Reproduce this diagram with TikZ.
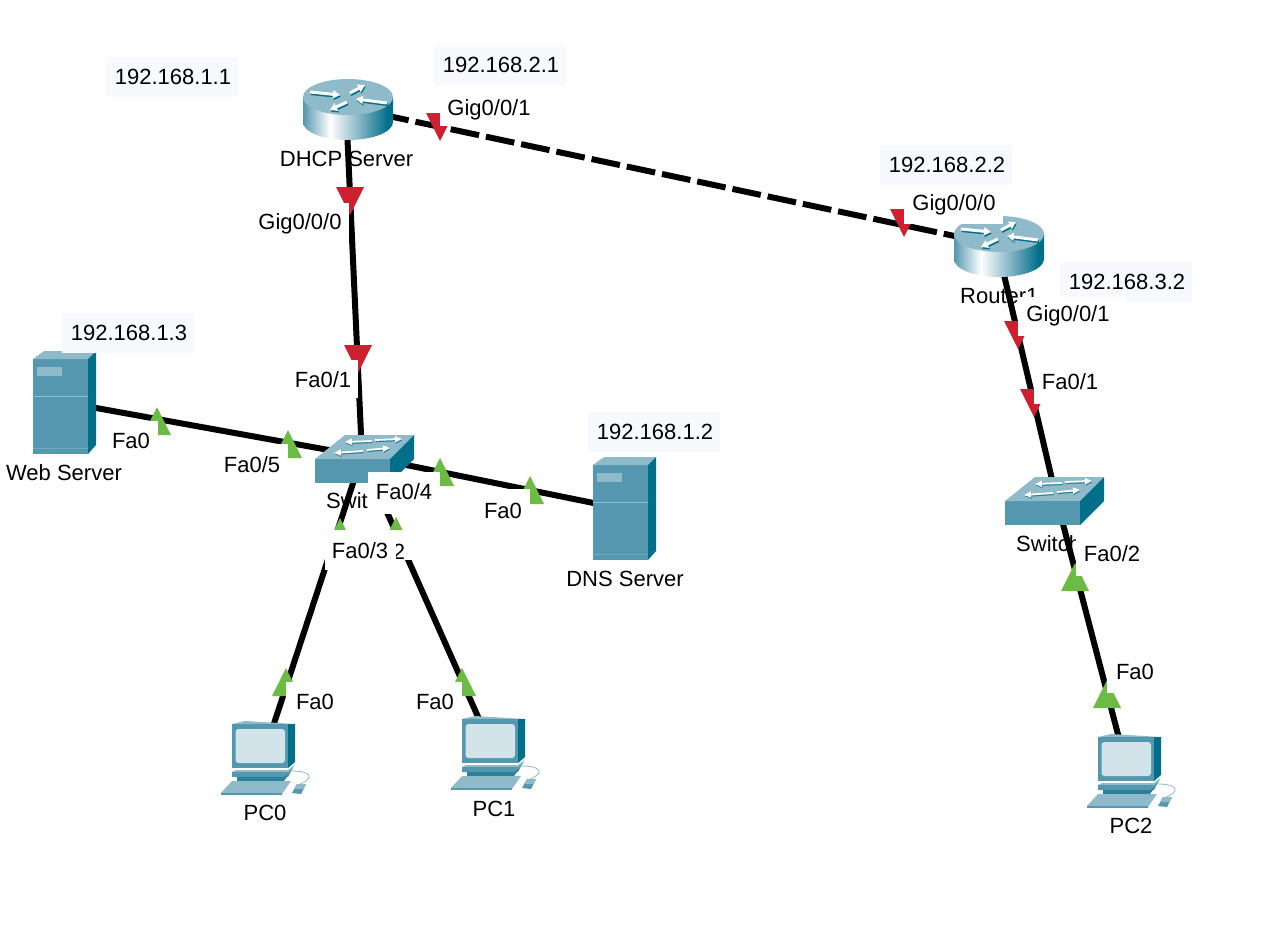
\documentclass[tikz,border=0pt]{standalone}
\usepackage{fontspec}
\setmainfont{Liberation Sans}
\usetikzlibrary{arrows.meta}
\definecolor{teal face}{HTML}{5497AF}
\definecolor{teal top}{HTML}{8FBAC9}
\definecolor{teal dark}{HTML}{006F8A}
\definecolor{teal mid}{HTML}{2A8199}
\definecolor{screen}{HTML}{D3E3EA}
\definecolor{paleaddr}{HTML}{F8F8FF}
\definecolor{portred}{HTML}{CD2030}
\definecolor{portgreen}{HTML}{6CBB45}
\pgfdeclarehorizontalshading{routerbody}{100bp}{
  color(0bp)=(teal face);
  color(25bp)=(teal face);
  color(40bp)=(white);
  color(55bp)=(teal top);
  color(72bp)=(teal dark);
  color(100bp)=(teal dark)}
\newcommand{\uptri}[2]{\fill[portgreen] (#1,#2) -- ++(14,28) -- ++(-28,0) -- cycle;}
\newcommand{\downtri}[2]{\fill[portred] (#1,#2) -- ++(14,-28) -- ++(-28,0) -- cycle;}
\tikzset{
  txt/.style={inner sep=0pt,font=\fontsize{22}{26}\selectfont,text=black},
  device/.style={inner sep=0pt,minimum size=1pt},
  link/.style={line width=6pt,black},
  arr/.style={line width=3pt,white,-{Triangle[length=7pt,width=8pt]}},
  arrshade/.style={line width=3pt,teal dark,-{Triangle[length=7pt,width=8pt]}},
  thinarr/.style={line width=1.8pt,white,-{Triangle[length=7pt,width=6pt]}},
  thinshade/.style={line width=1.8pt,teal mid,-{Triangle[length=7pt,width=6pt]}},
  routericon/.pic={
    \shade[shading=routerbody] (-45,0) -- (-45,25) .. controls (-45,35) and (-25,43) .. (0,43)
      .. controls (25,43) and (45,35) .. (45,25) -- (45,0) -- cycle;
    \fill[teal top] (0,0) ellipse [x radius=45,y radius=18];
    \foreach \a/\b/\c/\d in {-38/-5/-8/-2, 2/-4/17/-12, 39/6/8/2, -1/5/-18/13}{
      \draw[arrshade] (\a+.8,\b+1.6) -- (\c+.8,\d+1.6);
      \draw[arr] (\a,\b) -- (\c,\d);
    }
  },
  switchicon/.pic={
    \fill[teal face] (0,0) rectangle (75,24);
    \fill[teal top] (0,0) -- (30,-24) -- (99,-24) -- (75,0) -- cycle;
    \fill[teal dark] (75,0) -- (99,-24) -- (99,0) -- (75,24) -- cycle;
    \foreach \a/\b/\c/\d in {57/-18/30/-17, 60/-19/87/-20, 48/-8/19/-6, 52/-9/75/-11}{
      \draw[thinshade] (\a+.5,\b+1.2) -- (\c+.5,\d+1.2);
      \draw[thinarr] (\a,\b) -- (\c,\d);
    }
  },
  servericon/.pic={
    \fill[teal face] (0,0) rectangle (55,95);
    \fill[teal top] (0,0) -- (11,-8) -- (63,-8) -- (55,0) -- cycle;
    \fill[teal dark] (55,0) -- (63,-8) -- (63,86) -- (55,95) -- cycle;
    \fill[teal top] (4,8) rectangle (29,17);
    \draw[teal top,line width=.6pt] (6,12.5) -- (27,12.5);
    \draw[teal top,line width=.5pt] (0,37) -- (55,37);
    \fill[teal top,opacity=.55] (0,89) rectangle (55,90);
  },
  pcicon/.pic={
    \fill[teal top] (32,24) -- (45,21) -- (95,24) -- (88,24) -- cycle;
    \fill[teal face] (32,24) rectangle (88,68);
    \fill[teal dark] (88,24) -- (95,24) -- (95,62) -- (88,68) -- cycle;
    \fill[screen,rounded corners=3pt] (35.5,29) rectangle (85,63);
    \fill[teal top] (36,70) -- (88,70) -- (95,64) -- (88,72) -- (32,72) -- cycle;
    \fill[teal face] (32,72) -- (88,72) -- (94,66) -- (88,77) -- (32,77) -- cycle;
    \fill[teal mid] (37,77) -- (84,77) -- (89,74) -- (84,81) -- (37,81) -- cycle;
    \fill[teal top] (21,93) -- (32,81) -- (91,81) -- (82,94) -- cycle;
    \fill[teal face] (21,93) -- (82,93) -- (82,94.5) -- (21,94.5) -- cycle;
    \fill[teal face] (92,93) -- (97,84) -- (106,84) -- (101,94) -- cycle;
    \fill[teal top] (94,89) -- (97,84) -- (106,84) -- (103,89) -- cycle;
    \draw[teal top,line width=.8pt] (92,71) .. controls (104,71) and (112,74) .. (108,79) .. controls (106,82) and (102,83) .. (100,84);
  }
}
\begin{document}
\begin{tikzpicture}[x=1pt,y=-1pt]
\useasboundingbox (0,0) rectangle (1275,940);
\fill[white] (0,0) rectangle (1275,940);

% anchor points of the devices
\node[device] (r0) at (346,107) {};
\node[device] (r1) at (997,245) {};
\node[device] (sw0) at (362,456) {};
\node[device] (sw1) at (1058,505) {};
\node[device] (web) at (63,402) {};
\node[device] (dns) at (623,509) {};
\node[device] (pc0) at (262,760) {};
\node[device] (pc1) at (495,755) {};
\node[device] (pc2) at (1126,765) {};

% device names lie under the cables
\node[txt] (nr0) at (346.5,159) {DHCP Server};
\node[txt,anchor=base west] (nr1) at (960,303) {Router1};
\node[txt,anchor=base west] (nsw0) at (326,508) {Swit};
\node[txt,anchor=base west] (nsw1) at (1016,551) {Switch};
\node[txt] (nweb) at (64,473) {Web Server};
\node[txt] (ndns) at (625,579) {DNS Server};
\node[txt] (npc0) at (265,813) {PC0};
\node[txt] (npc1) at (494,809) {PC1};
\node[txt] (npc2) at (1131,826) {PC2};

% cables
\draw[link] (r0.center) -- (sw0.center);
\draw[link,dash pattern=on 29pt off 7pt,dash phase=1pt] (r0.center) -- (r1.center);
\draw[link] (r1.center) -- (sw1.center);
\draw[link] (sw1.center) -- (pc2.center);
\draw[link] (web.center) -- (sw0.center);
\draw[link] (dns.center) -- (sw0.center);
\draw[link] (pc0.center) -- (sw0.center);
\draw[link] (pc1.center) -- (sw0.center);

% port state markers
\downtri{350}{215} \downtri{358}{373} \downtri{440}{141}
\downtri{904}{237} \downtri{1018}{349} \downtri{1034}{417}
\uptri{157}{407} \uptri{288}{430} \uptri{440}{458} \uptri{530}{476}
\uptri{340}{518} \uptri{396}{517} \uptri{286}{668} \uptri{462}{668}
\uptri{1075}{563} \uptri{1107}{680}

% device icons
\pic at (348,97) {routericon};
\pic at (999,234) {routericon};
\pic at (315,459) {switchicon};
\pic at (1005,501) {switchicon};
\pic at (33,359) {servericon};
\pic at (593,465) {servericon};
\pic at (200,700) {pcicon};
\pic at (430,695) {pcicon};
\pic at (1066,713) {pcicon};

% address labels
\foreach \x/\y/\t in {106/57/192.168.1.1, 434/45/192.168.2.1, 880/145/192.168.2.2,
                      1060/262/192.168.3.2, 62/313/192.168.1.3, 588/412/192.168.1.2}{
  \fill[paleaddr] (\x,\y) rectangle (\x+132,\y+40);
  \node[txt] at (\x+67,\y+20) {\t};
}

% port labels on white plates
\fill[white] (440,90) rectangle (535,126);
\node[txt] (p1) at (489,110) {Gig0/0/1};
\fill[white] (904,185) rectangle (1003,224);
\node[txt] (p2) at (954,205) {Gig0/0/0};
\fill[white] (1018,297) rectangle (1125,336);
\node[txt] (p3) at (1068,316) {Gig0/0/1};
\fill[white] (255,203) rectangle (349,240);
\node[txt] (p4) at (300,224) {Gig0/0/0};
\fill[white] (290,360) rectangle (358,398);
\node[txt] (p5) at (323,380) {Fa0/1};
\fill[white] (1034,360) rectangle (1100,404);
\node[txt] (p6) at (1070,382) {Fa0/1};
\fill[white] (110,421) rectangle (158,460);
\node[txt] (p7) at (131,441) {Fa0};
\fill[white] (220,444) rectangle (288,484);
\node[txt] (p8) at (252,465) {Fa0/5};
\fill[white] (368,472) rectangle (440,514);
\node[txt] (p9) at (404,492) {Fa0/4};
\fill[white] (480,489) rectangle (530,530);
\node[txt] (p10) at (503,511) {Fa0};
\fill[white] (385,530) rectangle (415,560);
\node[txt] (p11) at (399,552) {2};
\fill[white] (325,530) rectangle (396,570);
\node[txt] (p12) at (360,551) {Fa0/3};
\fill[white] (286,682) rectangle (340,722);
\node[txt] (p13) at (315,702) {Fa0};
\fill[white] (412,682) rectangle (462,722);
\node[txt] (p14) at (435,702) {Fa0};
\fill[white] (1076,535) rectangle (1145,576);
\node[txt] (p15) at (1112,554) {Fa0/2};
\fill[white] (1107,655) rectangle (1160,693);
\node[txt] (p16) at (1135,672) {Fa0};
\end{tikzpicture}
\end{document}
